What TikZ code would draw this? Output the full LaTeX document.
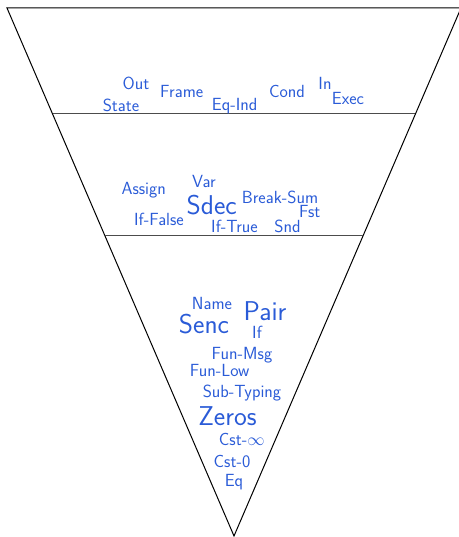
\documentclass[tikz,border=0pt]{standalone}
\begin{document}
\begin{tikzpicture}[x=1pt,y=-1pt,
  lbl/.style={text=lblue,font=\sffamily\fontsize{17.6}{19}\selectfont,inner sep=0pt,anchor=base},
  big/.style={text=lblue,font=\sffamily\fontsize{27.2}{30}\selectfont,inner sep=0pt,anchor=base},
  edge/.style={draw=black,line width=1pt},
  level/.style={draw=black!70,line width=1pt}]
\definecolor{lblue}{RGB}{42,91,215}
\useasboundingbox (0,0) rectangle (458,537);
\coordinate (tl) at (7,8);
\coordinate (tr) at (461,8);
\coordinate (ap) at (234,536);
\coordinate (l1) at (52.7,114);
\coordinate (r1) at (415.3,114);
\coordinate (l2) at (104.7,235);
\coordinate (r2) at (363.3,235);
\draw[edge,line join=miter] (tl) -- (tr) -- (ap) -- cycle;
\draw[level] (l1) -- (r1);
\draw[level] (l2) -- (r2);
% top level
\node[lbl] (out) at (136,89.3) {Out};
\node[lbl] (frame) at (181.7,97.3) {Frame};
\node[lbl] (state) at (121,111.7) {State};
\node[lbl] (eqind) at (234.7,110.7) {Eq-Ind};
\node[lbl] (cond) at (287,97.3) {Cond};
\node[lbl] (in) at (325,89.3) {In};
\node[lbl] (exec) at (348,105) {Exec};
% middle level
\node[lbl] (assign) at (143.7,194) {Assign};
\node[lbl] (var) at (204,187.7) {Var};
\node[big] (sdec) at (211.7,214) {Sdec};
\node[lbl] (breaksum) at (280,203.3) {Break-Sum};
\node[lbl] (fst) at (309.7,217.7) {Fst};
\node[lbl] (iffalse) at (159,225.7) {If-False};
\node[lbl] (iftrue) at (234.5,232.7) {If-True};
\node[lbl] (snd) at (287.5,232.7) {Snd};
% bottom level
\node[lbl] (name) at (212,309) {Name};
\node[big] (pair) at (265,320) {Pair};
\node[big] (senc) at (204,333.3) {Senc};
\node[lbl] (if) at (257,338.3) {If};
\node[lbl] (funmsg) at (242,359) {Fun-Msg};
\node[lbl] (funlow) at (219.7,376.7) {Fun-Low};
\node[lbl] (subtyping) at (242,397.3) {Sub-Typing};
\node[big] (zeros) at (227.5,425.7) {Zeros};
\node[lbl] (cstinf) at (241.7,445) {Cst-$\infty$};
\node[lbl] (cst0) at (232,467.3) {Cst-0};
\node[lbl] (eq) at (234,486.7) {Eq};
\end{tikzpicture}
\end{document}
